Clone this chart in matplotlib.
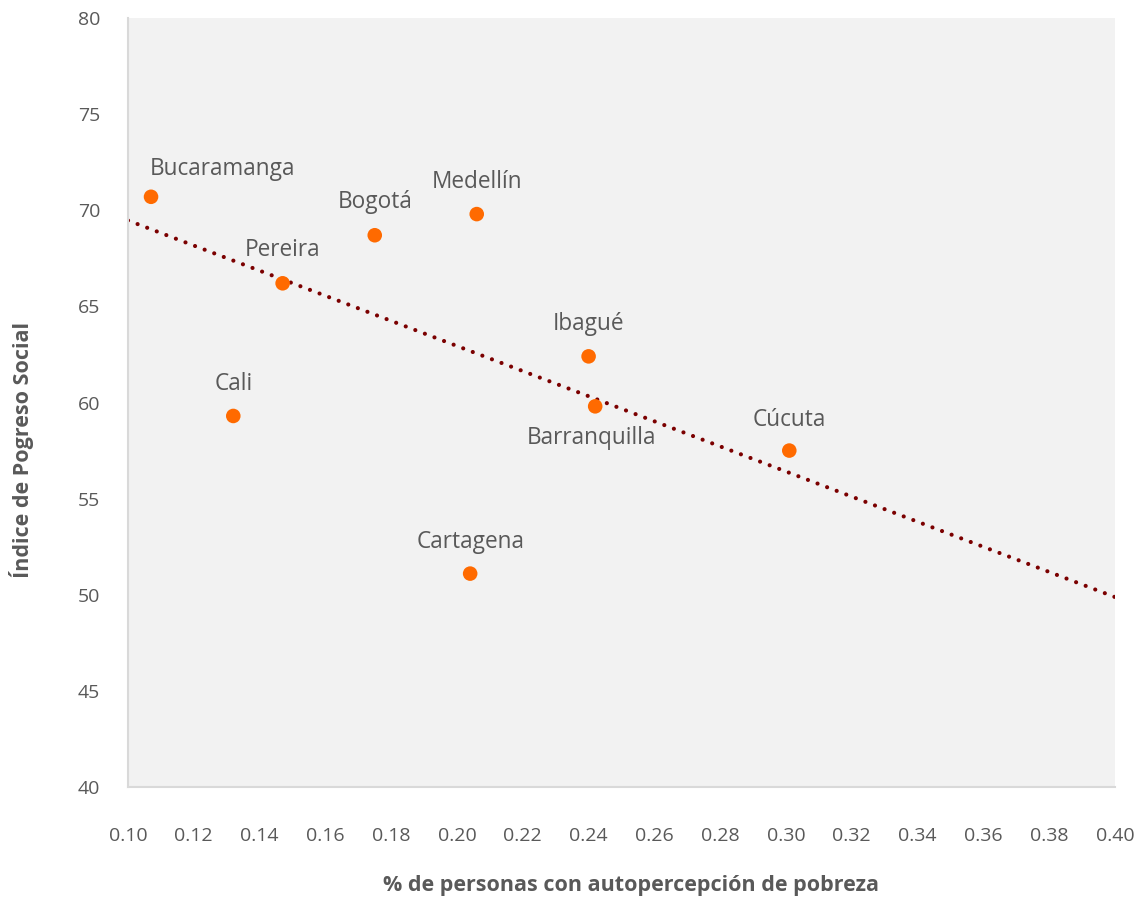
import matplotlib
matplotlib.use("Agg")
import matplotlib.pyplot as plt
import numpy as np

# ---- data ----
cities = ["Bucaramanga", "Bogotá", "Medellín", "Pereira", "Ibagué",
          "Cali", "Barranquilla", "Cúcuta", "Cartagena"]
poverty = [0.107, 0.175, 0.206, 0.147, 0.240, 0.132, 0.242, 0.301, 0.204]
ips = [70.7, 68.7, 69.8, 66.2, 62.4, 59.3, 59.8, 57.5, 51.1]

# trend line (linear, as drawn in the reference)
trend_intercept = 76.0
trend_slope = -65.3
trend_range = [0.10, 0.40]

x_ticks = [0.10, 0.12, 0.14, 0.16, 0.18, 0.20, 0.22, 0.24, 0.26, 0.28,
           0.30, 0.32, 0.34, 0.36, 0.38, 0.40]
y_ticks = [40, 45, 50, 55, 60, 65, 70, 75, 80]

# label placement (offset in points, horizontal alignment)
label_pos = {
    "Bucaramanga": (-1, 20, "left"),
    "Bogotá": (0, 24, "center"),
    "Medellín": (0, 23, "center"),
    "Pereira": (0, 24, "center"),
    "Ibagué": (0, 23, "center"),
    "Cali": (0, 23, "center"),
    "Barranquilla": (-3, -23, "center"),
    "Cúcuta": (0, 22, "center"),
    "Cartagena": (0, 23, "center"),
}

plt.rcParams["font.family"] = ["Open Sans", "DejaVu Sans"]
gray = "#595959"

fig = plt.figure(figsize=(11.38, 9.01), dpi=100)
ax = fig.add_axes([128 / 1138, 1 - 787 / 901, (1115 - 128) / 1138, (787 - 18) / 901])
ax.set_facecolor("#F2F2F2")

tx = np.linspace(trend_range[0], trend_range[1], 200)
ty = trend_intercept + trend_slope * tx
ax.plot(tx, ty, color="#7B0000", lw=3.0, linestyle=(0, (0.01, 2.45)),
        dash_capstyle="round", zorder=2)

ax.scatter(poverty, ips, s=110, color="#FF6A00", edgecolors="none", zorder=3)

for c, x, y in zip(cities, poverty, ips):
    dx, dy, ha = label_pos[c]
    ax.annotate(c, (x, y), xytext=(dx, dy), textcoords="offset points",
                ha=ha, va="center", fontsize=16.3, color=gray, zorder=4)

ax.set_xlim(0.10, 0.40)
ax.set_ylim(40, 80)
ax.set_xticks(x_ticks)
ax.set_xticklabels([f"{v:.2f}" for v in x_ticks])
ax.set_yticks(y_ticks)
ax.set_yticklabels([str(v) for v in y_ticks])
ax.tick_params(axis="both", length=0, labelsize=14, colors=gray)
ax.tick_params(axis="x", pad=29)
ax.tick_params(axis="y", pad=20)

for s in ["top", "right"]:
    ax.spines[s].set_visible(False)
for s in ["left", "bottom"]:
    ax.spines[s].set_color("#D9D9D9")
    ax.spines[s].set_linewidth(1.5)

fig.text(631 / 1138, 1 - 885 / 901, "% de personas con autopercepción de pobreza",
         ha="center", va="center", fontsize=15.5, fontweight="bold", color=gray)
fig.text(22 / 1138, 1 - 450 / 901, "Índice de Pogreso Social", rotation=90,
         ha="center", va="center", fontsize=15.5, fontweight="bold", color=gray)

fig.savefig("out.png", dpi=100)
